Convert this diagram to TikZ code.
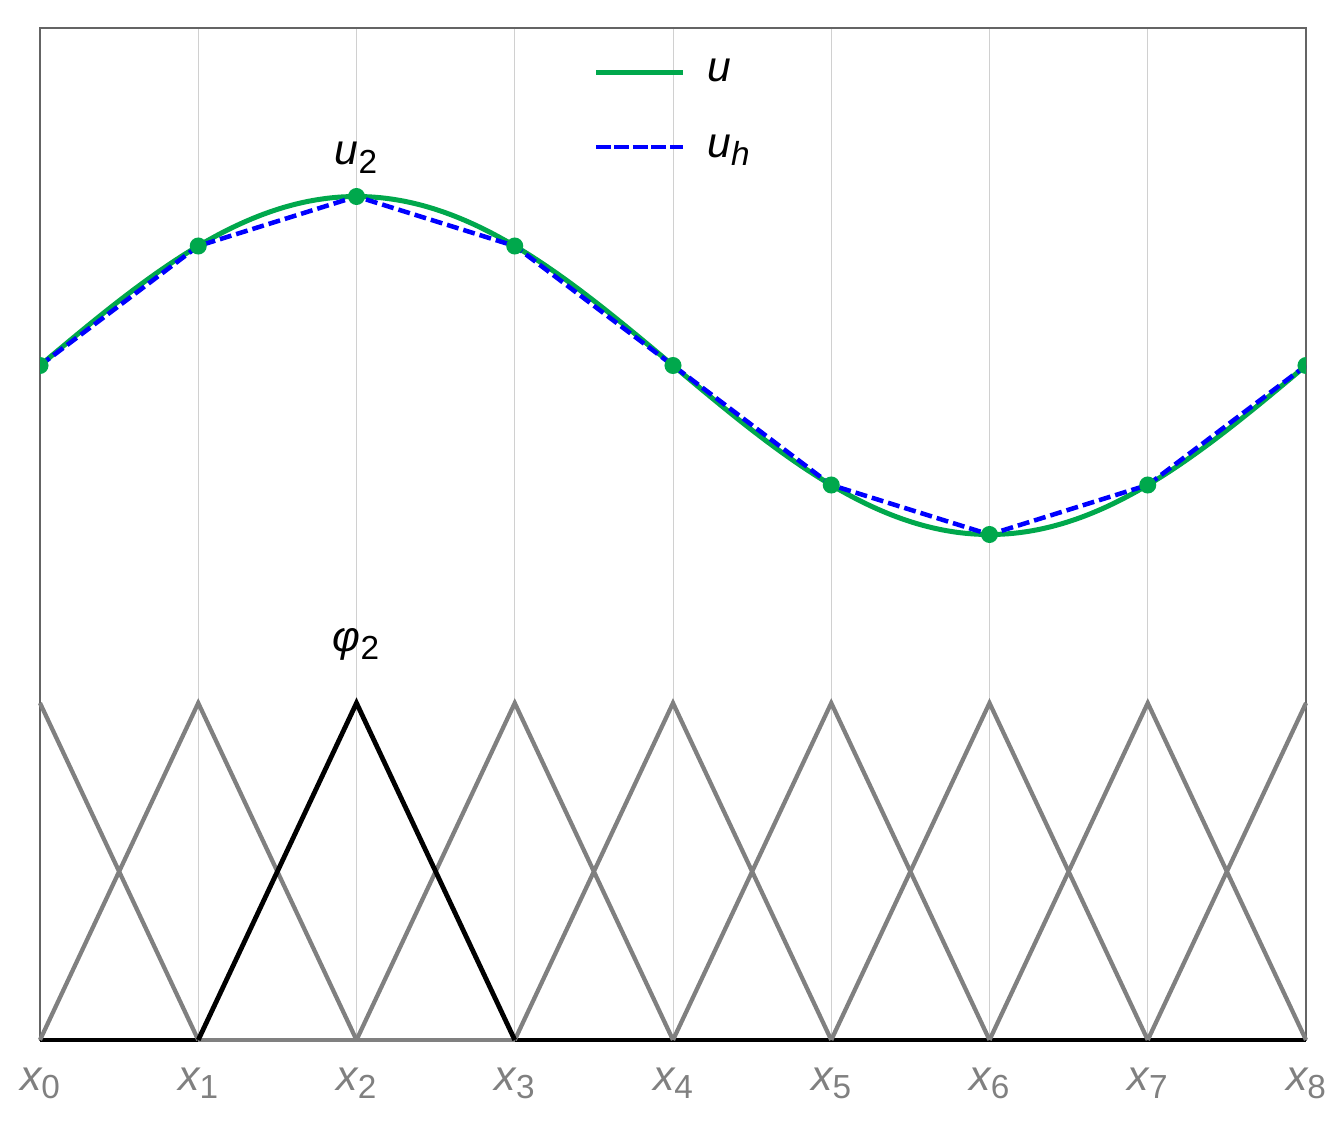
\documentclass[tikz,border=0pt]{standalone}
\usepackage{fontspec}
\setmainfont{Liberation Sans}
\definecolor{ugreen}{RGB}{0,168,76}
\definecolor{hatgray}{RGB}{128,128,128}
\definecolor{gridgray}{RGB}{208,208,208}
\definecolor{framegray}{RGB}{100,100,100}
\newcommand{\symlab}[2]{{\fontsize{32}{36}\selectfont\itshape #1}\raisebox{-6pt}{\fontsize{25}{28}\selectfont #2}}
\begin{document}
\begin{tikzpicture}[x=0.75pt,y=-0.75pt,
  gridline/.style={draw=gridgray,line width=0.75pt},
  frameline/.style={draw=framegray,line width=1.1pt},
  hat/.style={draw=hatgray,line width=3.2pt},
  hatmain/.style={draw=black,line width=3.6pt},
  baseblack/.style={draw=black,line width=3.2pt},
  ucurve/.style={draw=ugreen,line width=3.75pt},
  uhcurve/.style={draw=blue,line width=3.4pt,dash pattern=on 9pt off 3.75pt},
  legdash/.style={draw=blue,line width=3.4pt,dash pattern=on 11.25pt off 2.6pt},
  nodedot/.style={circle,fill=ugreen,inner sep=0pt,minimum size=12.8pt},
  xlab/.style={text=hatgray,anchor=base,inner sep=0pt},
  flab/.style={text=black,anchor=base,inner sep=0pt},
  leglab/.style={text=black,anchor=base west,inner sep=0pt}]
\useasboundingbox (0,0) rectangle (1343,1124);
% coordinates
\foreach \i in {0,...,8}{
  \coordinate (B\i) at ({40+158.25*\i},1040);
  \coordinate (P\i) at ({40+158.25*\i},703);
  \coordinate (T\i) at ({40+158.25*\i},28);
}
% grid
\foreach \i in {1,...,7}{ \draw[gridline] (T\i) -- (B\i); }
% frame
\draw[frameline] (T0) rectangle (B8);
% baseline
\draw[hat] (B1) -- (B3);
\draw[baseblack] (B0) -- (B1);
\draw[baseblack] (B3) -- (B8);
% gray hats
\draw[hat] (P0) -- (B1);
\draw[hat] (B0) -- (P1) -- (B2);
\draw[hat] (B2) -- (P3) -- (B4);
\draw[hat] (B3) -- (P4) -- (B5);
\draw[hat] (B4) -- (P5) -- (B6);
\draw[hat] (B5) -- (P6) -- (B7);
\draw[hat] (B6) -- (P7) -- (B8);
\draw[hat] (B7) -- (P8);
% black hat phi_2
\draw[hatmain,line join=miter] (B1) -- (P2) -- (B3);
% curves
\begin{scope}
\clip (T0) rectangle (B8);
\draw[ucurve] plot[domain=0:8,samples=120,smooth] ({40+158.25*\x},{365.5-169*sin(45*\x)});
\foreach \i in {0,...,8}{
  \node[nodedot,opacity=0] (d\i) at ({40+158.25*\i},{365.5-169*sin(45*\i)}) {};
}
\draw[uhcurve] (d0.center) -- (d1.center) -- (d2.center) -- (d3.center) -- (d4.center) -- (d5.center) -- (d6.center) -- (d7.center) -- (d8.center);
\foreach \i in {0,...,8}{ \fill[ugreen] (d\i.center) circle (6.4pt); }
\end{scope}
% x labels
\foreach \i in {0,...,8}{
  \node[xlab] (xl\i) at ({40+158.25*\i},1090) {\symlab{x}{\i}};
}
% function labels
\node[flab] (lu2) at (356,165) {\symlab{u}{2}};
\node[flab] (lphi2) at (356,651) {\symlab{φ}{2}};
% legend
\coordinate (LA1) at (596,73);
\coordinate (LA2) at (683,73);
\coordinate (LB1) at (596,147);
\coordinate (LB2) at (683,147);
\draw[ucurve] (LA1) -- (LA2);
\draw[legdash] (LB1) -- (LB2);
\node[leglab] (lu) at (707,82) {{\fontsize{32}{36}\selectfont\itshape u}};
\node[leglab] (luh) at (707,157) {\symlab{u}{\itshape h}};
\end{tikzpicture}
\end{document}
